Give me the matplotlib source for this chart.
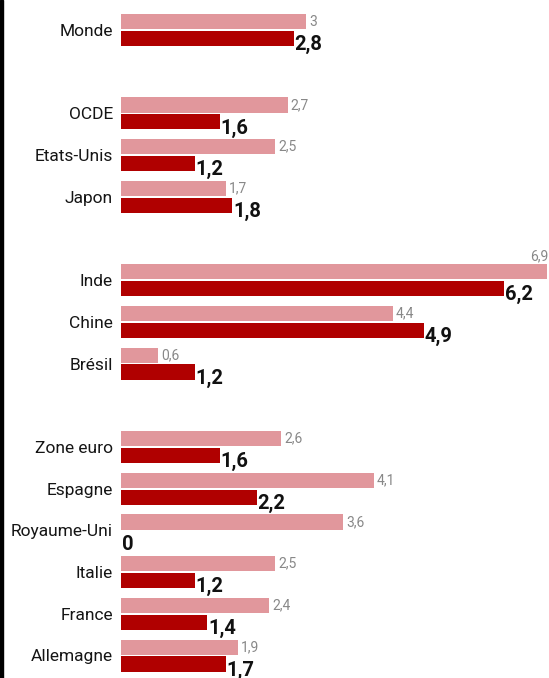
import matplotlib.pyplot as plt
from matplotlib.patches import Rectangle

plt.rcParams['font.family'] = ['Roboto', 'DejaVu Sans']

# categories, grouped (sizes of each block, one empty row between blocks)
categories = ["Monde",
              "OCDE", "Etats-Unis", "Japon",
              "Inde", "Chine", "Brésil",
              "Zone euro", "Espagne", "Royaume-Uni", "Italie", "France", "Allemagne"]
group_sizes = [1, 3, 3, 6]

# pale bars (top) and dark bars (bottom)
values_pale = [3, 2.7, 2.5, 1.7, 6.9, 4.4, 0.6, 2.6, 4.1, 3.6, 2.5, 2.4, 1.9]
values_dark = [2.8, 1.6, 1.2, 1.8, 6.2, 4.9, 1.2, 1.6, 2.2, 0, 1.2, 1.4, 1.7]

PALE = "#e1979c"
DARK = "#b00000"

W, H = 549, 678
PITCH = 41.7      # px between rows
TOP = 30          # px of first pair centre
X0 = 120.7        # px where bars start
UNIT = 61.8       # px per unit

# row positions with a blank row between groups
rows = []
r = 0
for g in group_sizes:
    for i in range(g):
        rows.append(r)
        r += 1
    r += 1

fig = plt.figure(figsize=(W / 100, H / 100), dpi=100)
fig.patches.append(Rectangle((0, 0), 3 / W, 1, transform=fig.transFigure,
                             color="black", zorder=10))
ax = fig.add_axes([X0 / W, 0, 1 - X0 / W, 1])
ax.set_xlim(0, (W - X0) / UNIT)
ax.set_ylim((H - TOP) / PITCH, -TOP / PITCH)

off = 8.4 / PITCH
h = 15.2 / PITCH
yp = [y - off for y in rows]
yd = [y + off for y in rows]
ax.barh(yp, values_pale, height=h, color=PALE)
ax.barh(yd, values_dark, height=h, color=DARK)

def fmt(v):
    return format(v, "g").replace(".", ",")

xmax = ax.get_xlim()[1]
for y, v in zip(yp, values_pale):
    if v > xmax - 0.4:
        ax.annotate(fmt(v), (xmax, y - h / 2), xytext=(-1, 1),
                    textcoords="offset pixels", ha="right", va="bottom",
                    fontsize=10, color="#888888")
    else:
        ax.annotate(fmt(v), (v, y), xytext=(3, 0), textcoords="offset pixels",
                    ha="left", va="center", fontsize=10, color="#888888")

for y, v in zip(yd, values_dark):
    ax.annotate(fmt(v), (v, y + h / 2), xytext=(1, -4),
                textcoords="offset pixels", ha="left", va="baseline",
                fontsize=14.5, fontweight="bold", color="#111111")

ax.set_yticks(rows, categories)
ax.tick_params(axis="y", length=0, pad=5.5, labelsize=12.5, labelcolor="#151515")
ax.set_xticks([])
for s in ax.spines.values():
    s.set_visible(False)

fig.savefig("out.png", dpi=100)
